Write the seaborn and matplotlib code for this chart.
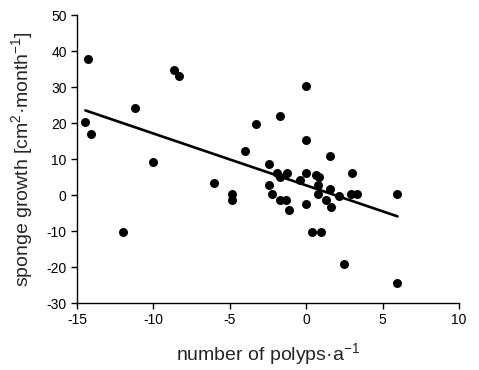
import numpy as np
import pandas as pd
import seaborn as sns
import matplotlib
matplotlib.use("Agg")
import matplotlib.pyplot as plt

# polyp change vs sponge growth
polyps = [-14.46, -14.31, -14.09, -12.02, -11.19, -10.01, -8.66, -8.31, -6.02,
          -4.84, -4.84, -4.01, -3.27, -2.44, -2.44, -2.23, -1.93, -1.72, -1.72,
          -1.72, -1.29, -1.24, -1.11, -0.41, -0.04, -0.04, -0.04, -0.04, 0.39,
          0.65, 0.81, 0.79, 0.79, 0.96, 1.27, 1.55, 1.55, 1.61, 2.14, 2.49,
          2.92, 2.97, 3.32, 5.98, 5.98]
growth = [20.3, 37.9, 16.9, -10.2, 24.3, 9.3, 34.8, 33.1, 3.3,
          0.4, -1.3, 12.2, 19.7, 8.5, 2.7, 0.4, 6.2, 21.9, 5.0,
          -1.3, -1.3, 6.2, -4.2, 4.2, 30.3, 15.3, 6.2, -2.6, -10.2,
          5.6, 5.0, 2.7, 0.4, -10.2, -1.3, 1.8, 10.9, -3.4, -0.2, -19.2,
          0.4, 6.2, 0.4, 0.4, -24.4]

df = pd.DataFrame({"polyps": polyps, "growth": growth})

sns.set_style("ticks")
plt.rcParams["font.family"] = ["Liberation Sans", "DejaVu Sans"]
plt.rcParams["mathtext.fontset"] = "custom"
plt.rcParams["mathtext.rm"] = "Liberation Sans"
plt.rcParams["mathtext.it"] = "Liberation Sans"
plt.rcParams["axes.unicode_minus"] = False

fig = plt.figure(figsize=(4.79, 3.70), dpi=100)
ax = fig.add_axes([0.161, 0.181, 0.797, 0.778])

sns.regplot(data=df, x="polyps", y="growth", ax=ax, ci=None, color="black",
            scatter_kws={"s": 42, "linewidths": 0, "alpha": 1},
            line_kws={"linewidth": 1.9})

ax.set_xlim(-15, 10)
ax.set_ylim(-30, 50)
ax.set_xticks(np.arange(-15, 11, 5))
ax.set_yticks(np.arange(-30, 51, 10))
ax.tick_params(direction="out", length=4, width=1, labelsize=10, colors="black")
for s in ["left", "bottom"]:
    ax.spines[s].set_linewidth(1)
    ax.spines[s].set_color("black")
sns.despine(ax=ax)

ax.set_xlabel("number of polyps\u00b7a$^{\\mathrm{-1}}$", fontsize=14, labelpad=10)
ax.set_ylabel("sponge growth [cm$^{\\mathrm{2}}$\u00b7month$^{\\mathrm{-1}}$]",
              fontsize=14, labelpad=8)

fig.savefig("out.png", dpi=100)
